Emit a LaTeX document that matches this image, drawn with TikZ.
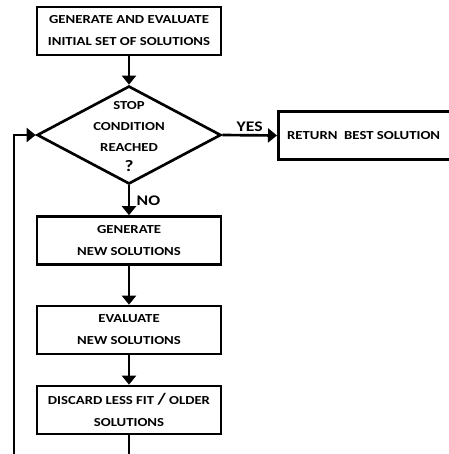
\documentclass[tikz,border=0pt]{standalone}
\usepackage{fontspec}
\setmainfont{Carlito}[FakeStretch=1.2]
\usepackage{tikz}
\usetikzlibrary{arrows.meta,shapes.geometric}
\usetikzlibrary{positioning}

\begin{document}
\begin{tikzpicture}[x=0.75pt,y=0.75pt,yscale=-1,xscale=1,
  stepbox/.style={draw,line width=2pt,minimum width=138pt,minimum height=36pt,inner sep=0pt,align=center,font=\fontsize{9.2}{16.5}\selectfont\bfseries},
  decision/.style={draw,diamond,line width=2pt,aspect=1.88,minimum width=138pt,minimum height=73.5pt,inner sep=0pt},
  flow/.style={line width=2pt,-{Triangle[length=6.75pt,width=10.5pt]}},
  lbl/.style={inner sep=0.75pt,font=\fontsize{11}{12}\selectfont\bfseries}]
  \useasboundingbox (0,0) rectangle (449,454);

  % Boxes
  \node[stepbox] (init) at (129,31) {GENERATE AND EVALUATE\\INITIAL SET OF SOLUTIONS};
  \node[decision] (stop) at (129,135) {};
  \node[align=center,inner sep=0pt,font=\fontsize{9.2}{15.5}\selectfont\bfseries] (stoptext) at (129,137) {STOP\\CONDITION\\REACHED\\{\large ?}};
  \node[stepbox,anchor=west] (best) at (277,135.5) {RETURN\ \ BEST SOLUTION\hspace*{10pt}};
  \node[stepbox] (gen) at (129,240.5) {GENERATE\\NEW SOLUTIONS};
  \node[stepbox] (eval) at (129,330) {EVALUATE\\NEW SOLUTIONS};
  \node[stepbox] (discard) at (129,410) {DISCARD LESS FIT {\large /} OLDER\\SOLUTIONS};

  % Loop ends (cut by the page edge)
  \coordinate (loopout) at (129,456);
  \coordinate (loopin) at (14,456);

  % Connectors
  \draw[flow] (init) -- (stop.north);
  \draw[flow] (stop.east) -- node[lbl,above=1pt] (yes) {YES} (best.west);
  \draw[flow] (stop.south) -- node[lbl,right=4pt] (no) {NO} (gen.north);
  \draw[flow] (gen) -- (eval);
  \draw[flow] (eval) -- (discard);
  \draw[line width=2pt] (discard) -- (loopout);
  \draw[flow] (loopin) |- (stop.west);
\end{tikzpicture}
\end{document}
